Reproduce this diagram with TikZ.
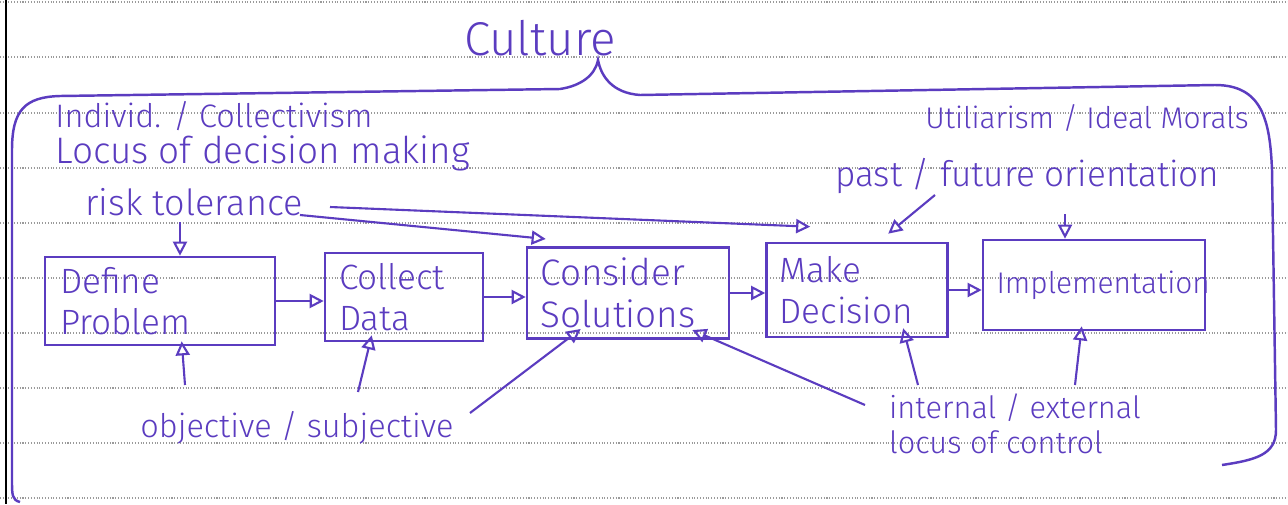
\documentclass[tikz,border=0pt]{standalone}
\usepackage{fontspec}
\setmainfont{Fira Sans}[UprightFont=* Light]
\usetikzlibrary{arrows.meta,calc}
\definecolor{ink}{HTML}{5B3CC0}
\definecolor{rule}{HTML}{9A9A9A}
\tikzset{
  ruling/.style={rule, densely dotted, line width=0.6pt},
  stepbox/.style={draw=ink, line width=1.5pt, inner sep=6pt, text=ink,
                  align=left, font=\fontsize{20}{23}\selectfont},
  note/.style={text=ink, inner sep=0pt, anchor=west},
  feed/.style={draw=ink, line width=1.2pt,
               -{Triangle[open, length=8pt, width=8pt, line width=1.2pt]}},
  flow/.style={feed}
}
\begin{document}
\begin{tikzpicture}[x=0.02cm, y=-0.02cm]
% page
\fill[white] (0,0) rectangle (1288,504);
\useasboundingbox (0,0) rectangle (1288,504);
\foreach \ry in {2,57,113,168,223,278,333,388,443,498}
  \draw[ruling] (0,\ry) -- (1288,\ry);
\draw[black, line width=1.3pt] (6,0) -- (6,504);

% title and enclosing brace
\node[text=ink, font=\fontsize{27}{30}\selectfont, inner sep=0pt] (culture) at (540,38) {Culture};
\coordinate (tip) at (598,60);
\draw[ink, line width=1.4pt]
  (20,502) .. controls (12,500) and (12,495) .. (12,480) -- (12,150)
  .. controls (12,110) and (25,97) .. (60,96) -- (560,89)
  .. controls (580,86) and (595,76) .. (tip)
  .. controls (601,76) and (612,93) .. (640,95) -- (1215,85)
  .. controls (1262,85) and (1270,120) .. (1272,170) -- (1276,430)
  .. controls (1276,455) and (1255,460) .. (1222,465);

% cultural dimensions
\node[note, font=\fontsize{18.5}{21}\selectfont] (indiv) at (55,116) {Individ. / Collectivism};
\node[note, font=\fontsize{21}{24}\selectfont] (locus) at (55,153) {Locus of decision making};
\node[note, font=\fontsize{17}{19}\selectfont] (moral) at (925,118) {Utiliarism / Ideal Morals};
\node[note, font=\fontsize{20}{22}\selectfont] (orient) at (835,176) {past / future orientation};
\node[note, font=\fontsize{20.5}{22}\selectfont] (risk) at (85,202) {risk tolerance};
\node[note, font=\fontsize{18.5}{21}\selectfont] (objsub) at (140,428) {objective / subjective};
\node[text=ink, inner sep=0pt, align=left, font=\fontsize{17.5}{20}\selectfont] (control) at (1015,424)
  {internal / external\\locus of control};

% decision steps
\node[stepbox, minimum width=4.6cm, minimum height=1.74cm, text width=4.0cm] (define) at (160,301) {Define\\Problem};
\node[stepbox, minimum width=3.16cm, minimum height=1.7cm, text width=2.6cm] (collect) at (404,297) {Collect\\Data};
\node[stepbox, minimum width=4.04cm, minimum height=1.8cm, text width=3.5cm,
      font=\fontsize{21}{24}\selectfont] (consider) at (628,293) {Consider\\Solutions};
\node[stepbox, minimum width=3.62cm, minimum height=1.88cm, text width=3.1cm] (make) at (857,290) {Make\\Decision};
\node[stepbox, minimum width=4.44cm, minimum height=1.8cm, text width=3.9cm,
      font=\fontsize{17}{21}\selectfont] (impl) at (1094,285) {Implementation};

% process flow
\draw[flow] (define.east) -- (collect.west |- define.east);
\draw[flow] (collect.east) -- (consider.west |- collect.east);
\draw[flow] (consider.east) -- (make.west |- consider.east);
\draw[flow] (make.east) -- (impl.west |- make.east);

% influences from above
\coordinate (riskA) at (180,222);
\coordinate (riskB) at (300,215);
\coordinate (riskC) at (330,207);
\coordinate (orientA) at (935,195);
\coordinate (orientB) at (1065,214);
\draw[feed] (riskA) -- (define.north -| riskA);
\draw[feed] (riskB) -- ($(consider.north west)+(20,-7)$);
\draw[feed] (riskC) -- ($(make.north west)+(45,-15)$);
\draw[feed] (orientA) -- ($(make.north west)+(123,-8)$);
\draw[feed] (orientB) -- (impl.north -| orientB);

% influences from below
\coordinate (objA) at (185,385);
\coordinate (objB) at (358,392);
\coordinate (objC) at (470,413);
\coordinate (ctlA) at (865,405);
\coordinate (ctlB) at (918,385);
\coordinate (ctlC) at (1075,385);
\draw[feed] (objA) -- ($(define.south west)+(138,-5)$);
\draw[feed] (objB) -- ($(collect.south west)+(48,-7)$);
\draw[feed] (objC) -- ($(consider.south west)+(55,-11)$);
\draw[feed] (ctlA) -- ($(consider.south east)+(-38,-10)$);
\draw[feed] (ctlB) -- ($(make.south west)+(138,-10)$);
\draw[feed] (ctlC) -- ($(impl.south west)+(100,-5)$);
\end{tikzpicture}
\end{document}
